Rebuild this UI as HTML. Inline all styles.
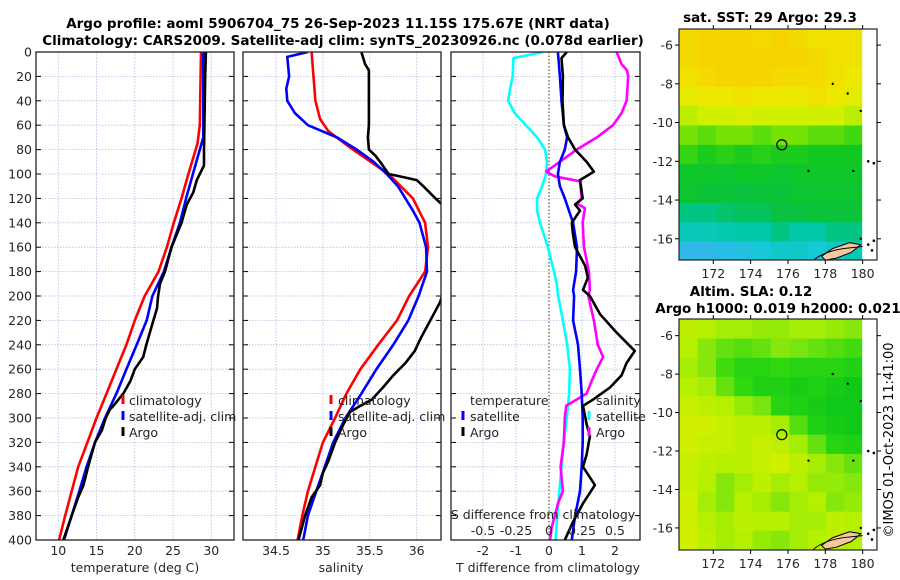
<!DOCTYPE html>
<html><head><meta charset="utf-8"><style>
html,body{margin:0;padding:0;background:#fff;}
svg{display:block;font-family:"DejaVu Sans","Liberation Sans",sans-serif;}
</style></head><body>
<svg id="fig" width="900" height="580" viewBox="0 0 900 580" xmlns="http://www.w3.org/2000/svg">
<defs>
<clipPath id="c1"><rect x="36" y="52" width="198" height="488"/></clipPath>
<clipPath id="c2"><rect x="243" y="52" width="198" height="488"/></clipPath>
<clipPath id="c3"><rect x="451" y="52" width="189" height="488"/></clipPath>
<clipPath id="cm1"><rect x="679" y="29" width="198" height="231"/></clipPath>
<clipPath id="cm2"><rect x="679" y="319" width="198" height="231"/></clipPath>
</defs>
<text x="338" y="28" text-anchor="middle" font-size="13.5" font-weight="bold">Argo profile: aoml 5906704_75 26-Sep-2023 11.15S 175.67E (NRT data)</text>
<text x="343" y="45" text-anchor="middle" font-size="13.5" font-weight="bold">Climatology: CARS2009. Satellite-adj clim: synTS_20230926.nc (0.078d earlier)</text>
<text x="770" y="22" text-anchor="middle" font-size="13.5" font-weight="bold">sat. SST: 29 Argo: 29.3</text>
<text x="751" y="296" text-anchor="middle" font-size="13.5" font-weight="bold">Altim. SLA: 0.12</text>
<text x="778" y="313" text-anchor="middle" font-size="13.5" font-weight="bold">Argo h1000: 0.019 h2000: 0.021</text>
<text transform="translate(893,440) rotate(-90)" text-anchor="middle" font-size="13">©IMOS 01-Oct-2023 11:41:00</text>
<g id="g"></g>
</svg>
<script>
// ---- data ----
const depthT = [0,20,60,75,100,120,140,160,180,200,220,240,260,280,300,320,340,360,380,400];
const tempClim = [28.65,28.6,28.5,28.2,27.0,26.1,25.1,24.2,23.1,21.3,20.0,18.9,17.6,16.3,15.0,13.8,12.6,11.75,10.9,10.1];
const depthTS = [0,70,80,100,120,140,160,180,200,220,240,260,280,300,320,340,360,380,400];
const tempSat = [28.95,28.95,28.5,27.6,26.7,25.9,24.8,23.8,22.3,21.55,20.25,18.9,17.6,16.1,14.8,13.7,12.75,11.75,10.75];
const depthTA = [0,20,80,93,100,105,115,125,140,160,180,190,200,210,225,240,250,260,270,280,290,293,300,310,320,340,355,365,380,400];
const tempArgo = [29.3,29.2,29.05,29.05,28.5,28.1,27.65,26.8,26.1,24.8,23.95,23.3,23.05,22.9,22.2,21.5,21.1,20.0,19.4,18.5,17.2,16.75,16.2,15.7,14.8,13.9,13.3,12.6,11.75,10.65];

const depthSC = [0,20,40,55,65,80,100,120,140,160,180,200,220,240,260,280,300,320,340,360,380,400];
const salClim = [34.88,34.90,34.92,34.97,35.06,35.32,35.70,35.96,36.09,36.12,36.09,35.92,35.79,35.59,35.40,35.25,35.13,35.00,34.92,34.84,34.78,34.73];
const depthSS = [0,4,20,30,40,50,60,70,80,90,100,110,120,130,140,160,180,200,220,240,260,280,300,320,340,360,380,400];
const salSat = [34.84,34.62,34.64,34.61,34.62,34.70,34.84,35.15,35.36,35.54,35.68,35.80,35.88,35.96,36.03,36.10,36.11,36.02,35.91,35.75,35.57,35.41,35.24,35.11,35.02,34.93,34.84,34.79];
const depthSA = [0,10,15,20,60,70,80,85,90,100,102,105,110,120,125,135,160,195,200,205,215,225,235,245,255,265,275,285,290,295,305,320,335,345,355,365,380,400];
const salArgo = [35.41,35.45,35.49,35.49,35.49,35.48,35.49,35.56,35.61,35.70,35.82,36.0,36.07,36.2,36.27,36.35,36.4,36.32,36.27,36.25,36.18,36.11,36.04,35.98,35.88,35.75,35.64,35.52,35.40,35.29,35.22,35.13,35.06,35.0,34.97,34.88,34.81,34.74];

const depthDS = [0,5,20,30,40,50,60,70,80,90,100,110,120,130,140,160,180,190,200,220,240,260,280,300,320,340,360,380,400];
const salDiffSat = [-0.045,-0.27,-0.275,-0.295,-0.31,-0.26,-0.175,-0.09,-0.03,-0.015,-0.022,-0.052,-0.09,-0.09,-0.068,-0.008,0.038,0.058,0.07,0.105,0.138,0.158,0.152,0.135,0.112,0.095,0.078,0.062,0.05];
const depthDSA = [0,10,15,20,40,50,60,70,80,90,98,102,106,120,124,128,140,160,180,195,200,220,240,250,260,270,280,290,300,320,340,360,370,380,390,400];
const salDiffArgo = [0.512,0.55,0.59,0.6,0.588,0.55,0.485,0.362,0.21,0.082,-0.022,0.045,0.235,0.248,0.21,0.272,0.255,0.265,0.302,0.31,0.298,0.34,0.37,0.41,0.362,0.322,0.285,0.13,0.12,0.112,0.088,0.105,0.068,0.045,0.02,0.008];
const depthDT = [0,20,40,60,70,80,90,100,110,120,140,160,180,195,200,220,240,260,280,300,320,340,360,380,400];
const tempDiffSat = [0.27,0.33,0.38,0.45,0.55,0.48,0.33,0.27,0.33,0.48,0.73,0.85,0.82,0.73,0.76,0.73,0.88,0.94,0.99,1.02,1.02,0.99,0.94,0.79,0.69];
const depthDTA = [0,5,20,40,60,70,80,90,98,105,120,125,130,140,150,160,175,185,195,200,215,230,245,255,265,275,285,290,305,315,330,340,355,370,385,400];
const tempDiffArgo = [0.54,0.38,0.42,0.41,0.45,0.58,0.79,1.14,1.36,0.94,1.02,0.79,0.94,0.69,0.73,0.79,1.09,1.18,1.03,1.24,1.55,2.05,2.6,2.35,2.2,1.85,1.33,1.03,1.14,1.24,1.14,1.03,1.39,1.03,0.73,0.48];

const depthTicks = [0,20,40,60,80,100,120,140,160,180,200,220,240,260,280,300,320,340,360,380,400];
const tempTicks = [10,15,20,25,30];
const salTicks = [34.5,35,35.5,36];
const tdTicks = [-2,-1,0,1,2];
const sdTicks = [-0.5,-0.25,0,0.25,0.5];
const sdTickLabels = ["-0.5","-0.25","0","0.25","0.5"];
const latTicks = [-6,-8,-10,-12,-14,-16];
const lonTicks = [172,174,176,178,180];

const sstGrid = [
[29.45,29.5,29.5,29.5,29.45,29.5,29.45,29.4,29.4,29.4],
[29.45,29.5,29.5,29.55,29.5,29.5,29.5,29.45,29.4,29.4],
[29.4,29.45,29.5,29.55,29.5,29.45,29.45,29.45,29.4,29.35],
[29.3,29.35,29.35,29.4,29.35,29.35,29.35,29.4,29.35,29.3],
[29.15,29.2,29.2,29.25,29.2,29.2,29.2,29.2,29.2,29.15],
[29.0,28.95,29.0,29.0,28.95,29.0,29.0,28.95,28.95,28.9],
[28.85,28.75,28.8,28.75,28.8,28.75,28.75,28.7,28.7,28.7],
[28.65,28.65,28.6,28.65,28.65,28.6,28.65,28.65,28.65,28.65],
[28.6,28.55,28.55,28.5,28.55,28.55,28.6,28.6,28.6,28.6],
[28.3,28.3,28.35,28.4,28.4,28.5,28.5,28.55,28.55,28.55],
[28.1,28.1,28.15,28.2,28.2,28.3,28.2,28.2,28.3,28.3],
[27.7,27.7,27.75,27.8,27.9,28.0,28.0,27.9,28.0,28.1]];
const slaGrid = [
[.16,.15,.14,.14,.13,.13,.14,.14,.13,.12],
[.15,.12,.10,.09,.10,.12,.11,.10,.09,.08],
[.14,.12,.08,.06,.06,.07,.06,.06,.06,.05],
[.15,.14,.10,.07,.05,.05,.04,.05,.04,.03],
[.17,.16,.15,.13,.11,.06,.05,.04,.03,.03],
[.18,.18,.17,.16,.16,.14,.09,.05,.04,.03],
[.18,.17,.17,.16,.17,.16,.14,.10,.06,.05],
[.17,.16,.15,.16,.17,.18,.16,.14,.12,.10],
[.17,.15,.12,.14,.16,.14,.15,.13,.13,.12],
[.18,.14,.12,.15,.14,.12,.14,.15,.12,.13],
[.18,.15,.14,.16,.15,.15,.14,.14,.16,.15],
[.18,.16,.14,.15,.13,.12,.14,.15,.16,.15]];
const argoLon = 175.67, argoLat = -11.15;

// ---- helpers ----
const NS = "http://www.w3.org/2000/svg";
const G = document.getElementById('g');
function mk(tag, attrs, parent){ const e=document.createElementNS(NS,tag); for(const k in attrs) e.setAttribute(k,attrs[k]); (parent||G).appendChild(e); return e; }
function txt(x,y,s,attrs){ const e=mk('text',Object.assign({x:x,y:y,'font-size':12.5,fill:'#262626'},attrs||{})); e.textContent=s; return e; }

const yD = d => 52 + d*1.22;
const xT = t => 58.3 + (t-10)*7.65;
const xS = s => 276 + (s-34.5)*93.8;
const xTD = t => 549 + t*33;
const xSD = s => 549 + s*4*33;
const mx = lon => 679.3 + (lon-170.18)*18.67;
const my1 = lat => 29 + (-5.17-lat)*19.37;
const my2 = lat => 319.3 + (-5.15-lat)*19.23;

function panel(name, x0, w, clip){
  const p = mk('g',{});
  
  
  return p;
}
function gridV(p, xs){ xs.forEach(x=>{ const l=mk('line',{x1:x,x2:x,y1:52,y2:540,stroke:'#b4bce0','stroke-width':0.8,'stroke-dasharray':'1.5,1.5'},p);
    }); }
function gridH(p, x0, w){ depthTicks.forEach(d=>{ const y=yD(d);
  const l=mk('line',{x1:x0,x2:x0+w,y1:y,y2:y,stroke:'#b4bce0','stroke-width':0.8,'stroke-dasharray':'1.5,1.5'},p);
   
  mk('line',{x1:x0,x2:x0+5,y1:y,y2:y,stroke:'#000','stroke-width':1},p);
  mk('line',{x1:x0+w-5,x2:x0+w,y1:y,y2:y,stroke:'#000','stroke-width':1},p);
}); }
function line(p, xs, ys, xf, color, name, clip){
  const pts = xs.map((v,i)=> xf(v).toFixed(1)+','+yD(ys[i]).toFixed(1)).join(' ');
  const l = mk('polyline',{points:pts,fill:'none',stroke:color,'stroke-width':2.6,'stroke-linejoin':'round','clip-path':'url(#'+clip+')'},p);
  
  
}
function frame(p,x0,w){ const r=mk('rect',{x:x0,y:52,width:w,height:488,fill:'none',stroke:'#222','stroke-width':1.3},p);
    }
function legendEntry(p,x,y,color,label){
  const g=mk('g',{},p);
  
  
  mk('line',{x1:x,x2:x,y1:y-10,y2:y-1,stroke:color,'stroke-width':3},g);
  txt(x+6,y,label,{fill:'#222'},).remove;
  const t=g.lastChild; if(t.tagName!=='text'){ } 
  const tt=mk('text',{x:x+6,y:y,'font-size':12.5,fill:'#222'},g); tt.textContent=label;
}

// depth axis labels
depthTicks.forEach(d=>{ const t=txt(32,yD(d)+4.5,String(d),{'text-anchor':'end'});
    });

// ---- Panel 1: temperature ----
const p1 = panel('temperature-panel');
gridV(p1, tempTicks.map(xT)); gridH(p1,36,198);
line(p1,tempClim,depthT,xT,'#ff0000','temp-climatology-line','c1');
line(p1,tempSat,depthTS,xT,'#0000ff','temp-satellite-line','c1');
line(p1,tempArgo,depthTA,xT,'#000000','temp-argo-line','c1');
frame(p1,36,198);
tempTicks.forEach(t=>{ const e=txt(xT(t),555,String(t),{'text-anchor':'middle'});   });
{ const e=txt(135,572,'temperature (deg C)',{'text-anchor':'middle'});   }
[['#ff0000','climatology',405],['#0000ff','satellite-adj. clim',421],['#000','Argo',437]].forEach(a=>{
  const g=mk('g',{},p1);  
  mk('line',{x1:123,x2:123,y1:a[2]-10,y2:a[2]-1,stroke:a[0],'stroke-width':3},g);
  const t=mk('text',{x:129,y:a[2],'font-size':12.5,fill:'#222'},g); t.textContent=a[1]; });

// ---- Panel 2: salinity ----
const p2 = panel('salinity-panel');
gridV(p2, salTicks.map(xS)); gridH(p2,243,198);
line(p2,salClim,depthSC,xS,'#ff0000','sal-climatology-line','c2');
line(p2,salSat,depthSS,xS,'#0000ff','sal-satellite-line','c2');
line(p2,salArgo,depthSA,xS,'#000000','sal-argo-line','c2');
frame(p2,243,198);
salTicks.forEach(t=>{ const e=txt(xS(t),555,String(t),{'text-anchor':'middle'});   });
{ const e=txt(341,572,'salinity',{'text-anchor':'middle'});   }
[['#ff0000','climatology',405],['#0000ff','satellite-adj. clim',421],['#000','Argo',437]].forEach(a=>{
  const g=mk('g',{},p2);  
  mk('line',{x1:331,x2:331,y1:a[2]-10,y2:a[2]-1,stroke:a[0],'stroke-width':3},g);
  const t=mk('text',{x:338,y:a[2],'font-size':12.5,fill:'#222'},g); t.textContent=a[1]; });

// ---- Panel 3: differences ----
const p3 = panel('difference-panel');
gridV(p3, tdTicks.filter(t=>t!==0).map(xTD)); gridH(p3,451,189);
{ const z=mk('line',{x1:549,x2:549,y1:52,y2:540,stroke:'#555533','stroke-width':1.2,'stroke-dasharray':'1.5,2'},p3);   }
line(p3,salDiffSat,depthDS,xSD,'#00ffff','sal-diff-satellite-line','c3');
line(p3,salDiffArgo,depthDSA,xSD,'#ff00ff','sal-diff-argo-line','c3');
line(p3,tempDiffSat,depthDT,xTD,'#0000ff','temp-diff-satellite-line','c3');
line(p3,tempDiffArgo,depthDTA,xTD,'#000000','temp-diff-argo-line','c3');
frame(p3,451,189);
tdTicks.forEach(t=>{ const e=txt(xTD(t),555,String(t),{'text-anchor':'middle'});   });
sdTicks.forEach((s,i)=>{ const e=txt(xSD(s),535,sdTickLabels[i],{'text-anchor':'middle'});   });
{ const e=txt(543,519,'S difference from climatology',{'text-anchor':'middle'});   }
{ const e=txt(548,572,'T difference from climatology',{'text-anchor':'middle'});   }
{ const e=txt(470,405,'temperature',{});   }
{ const e=txt(596,405,'salinity',{});   }
[[463,'#0000ff','satellite',421],[463,'#000','Argo',437],[589,'#00ffff','satellite',421],[589,'#ff00ff','Argo',437]].forEach(a=>{
  const g=mk('g',{},p3);  
  mk('line',{x1:a[0],x2:a[0],y1:a[3]-10,y2:a[3]-1,stroke:a[1],'stroke-width':3},g);
  const t=mk('text',{x:a[0]+7,y:a[3],'font-size':12.5,fill:'#222'},g); t.textContent=a[2]; });

// ---- Maps ----
function cmap(v, stops){
  if(v<=stops[0][0]) return stops[0][1];
  for(let i=1;i<stops.length;i++){ if(v<=stops[i][0]){ const a=stops[i-1],b=stops[i]; const f=(v-a[0])/(b[0]-a[0]);
    const ca=a[1].match(/\w\w/g).map(h=>parseInt(h,16)), cb=b[1].match(/\w\w/g).map(h=>parseInt(h,16));
    return 'rgb('+ca.map((c,k)=>Math.round(c+(cb[k]-c)*f)).join(',')+')'; } }
  return stops[stops.length-1][1];
}
const sstStops = [[27.6,'#3ab0f0'],[27.9,'#18c8d8'],[28.2,'#00c8a8'],[28.45,'#08c048'],[28.7,'#10c820'],[28.9,'#40d810'],[29.05,'#90e800'],[29.2,'#d0f000'],[29.35,'#eee800'],[29.5,'#f6d400']];
const slaStops = [[0.03,'#10c818'],[0.07,'#30d810'],[0.11,'#78e410'],[0.15,'#b4f000'],[0.18,'#d0f000']];

function drawMap(name, grid, stops, my, clip, yTop){
  const m = mk('g',{});  
  const cells = mk('g',{'clip-path':'url(#'+clip+')'},m);
  grid.forEach((row,r)=>row.forEach((v,c)=>{
    const lon0=170.18+c*0.982, lat0=-5.15-r;
    const x0=mx(lon0), x1=Math.min(mx(lon0+0.982),861.7), y0=my(lat0), y1=my(lat0-1);
    const cell=mk('rect',{x:x0,y:y0,width:x1-x0+0.5,height:y1-y0+0.5,fill:cmap(v,stops)},cells);
     
  }));
  // land: Fiji-like shapes
  const land=mk('g',{'clip-path':'url(#'+clip+')'},m);
   
  const p = (pts)=>pts.map(q=>mx(q[0]).toFixed(1)+','+my(q[1]).toFixed(1)).join(' ');
  mk('polygon',{points:p([[177.8,-16.9],[178.4,-16.5],[179.3,-16.2],[179.9,-16.3],[179.4,-16.7],[178.6,-17.0],[178.0,-17.1]]),fill:'#f5c8a0',stroke:'#000','stroke-width':1},land);
  mk('path',{d:'M'+mx(177.1)+','+my(-17.4)+' Q'+mx(177.6)+','+my(-16.7)+' '+mx(179)+','+my(-16.5)+' L'+mx(180)+','+my(-16.4),fill:'none',stroke:'#000','stroke-width':1},land);
  [[177.1,-12.5],[179.5,-12.5],[178.4,-8.0],[179.2,-8.5],[179.9,-9.4],[179.9,-16.0]].forEach(q=>mk('circle',{cx:mx(q[0]),cy:my(q[1]),r:1.2,fill:'#000'},land));
  [[180.3,-12.0],[180.6,-12.1],[180.3,-16.3],[180.6,-16.1],[180.5,-16.6]].forEach(q=>mk('circle',{cx:mx(q[0]),cy:my(q[1]),r:1.3,fill:'#000'},m));
  const bottom = yTop+231;
  const fr=mk('rect',{x:679,y:yTop,width:198,height:231,fill:'none',stroke:'#222','stroke-width':1.2},m);
   
  latTicks.forEach(l=>{ const y=my(l);
    mk('line',{x1:679,x2:675,y1:y,y2:y,stroke:'#000'},m); mk('line',{x1:877,x2:881,y1:y,y2:y,stroke:'#000'},m);
    const t=mk('text',{x:673,y:y+4.5,'text-anchor':'end','font-size':12.5,fill:'#262626'},m); t.textContent=String(l);
      });
  lonTicks.forEach(l=>{ const x=mx(l);
    mk('line',{x1:x,x2:x,y1:bottom,y2:bottom+4,stroke:'#000'},m); mk('line',{x1:x,x2:x,y1:yTop,y2:yTop-4,stroke:'#000'},m);
    const t=mk('text',{x:x,y:bottom+18,'text-anchor':'middle','font-size':12.5,fill:'#262626'},m); t.textContent=String(l);
      });
  const mark=mk('circle',{cx:mx(argoLon),cy:my(argoLat),r:5,fill:'none',stroke:'#111','stroke-width':1.3},m);
   
}
drawMap('sst-map', sstGrid, sstStops, my1, 'cm1', 29);
drawMap('sla-map', slaGrid, slaStops, my2, 'cm2', 319);
</script>
</body></html>
